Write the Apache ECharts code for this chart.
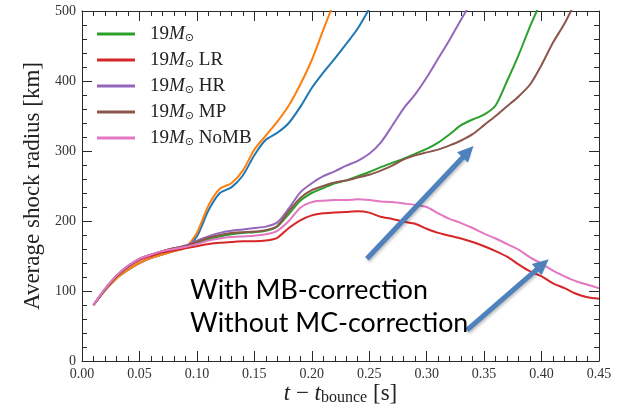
<!DOCTYPE html>
<html>
<head>
<meta charset="utf-8">
<script src="https://cdn.jsdelivr.net/npm/echarts@6/dist/echarts.min.js"></script>
<style>
html, body { margin: 0; padding: 0; background: #fff; }
#chart { width: 621px; height: 412px; }
</style>
</head>
<body>
<div id="chart"></div>
<script>
// Time after bounce [s]
const times = [0.01, 0.02, 0.03, 0.04, 0.05, 0.06, 0.07, 0.08, 0.09, 0.10,
  0.11, 0.12, 0.13, 0.14, 0.15, 0.16, 0.17, 0.18, 0.19, 0.20,
  0.21, 0.22, 0.23, 0.24, 0.25, 0.26, 0.27, 0.28, 0.29, 0.30,
  0.31, 0.32, 0.33, 0.34, 0.35, 0.36, 0.37, 0.38, 0.39, 0.40,
  0.41, 0.42, 0.43, 0.44, 0.45];

// Average shock radius [km] for each run
const radiusBlue = [80, 101, 118, 130, 140, 147, 152, 157, 162, 178,
  215, 240, 248, 265, 294, 316, 326, 340, 363, 390,
  412, 432, 453, 475, 503];
const radiusOrange = [80, 101, 118, 130, 140, 147, 152, 157, 162, 183,
  222, 246, 254, 272, 302, 322, 342, 365, 395, 430,
  473, 515];
const radiusRef = [80, 102, 121, 135, 145, 151, 156, 160, 163, 168,
  174, 178, 181, 183, 184, 186, 192, 210, 229, 240,
  247, 254, 258, 264, 270, 277, 283, 289, 296, 303,
  312, 324, 337, 345, 352, 365, 400, 437, 478, 515];
const radiusLR = [80, 102, 121, 134, 144, 150, 155, 158, 161, 164,
  167, 169, 170, 171, 171, 172, 176, 190, 201, 208,
  211, 212, 213, 214, 212, 206, 203, 199, 196, 189,
  183, 179, 175, 170, 164, 157, 149, 138, 128, 121,
  111, 104, 96, 91, 89];
const radiusHR = [80, 103, 122, 136, 146, 152, 157, 161, 165, 172,
  178, 183, 186, 188, 190, 192, 198, 218, 241, 254,
  264, 271, 279, 286, 296, 312, 336, 361, 381, 405,
  432, 459, 488, 515];
const radiusMP = [80, 102, 121, 135, 146, 152, 157, 161, 164, 170,
  176, 180, 183, 184, 185, 187, 193, 214, 233, 244,
  250, 255, 258, 262, 266, 272, 279, 288, 294, 298,
  302, 308, 315, 324, 337, 350, 364, 378, 395, 423,
  455, 482, 515];
const radiusNoMB = [80, 103, 122, 136, 146, 152, 157, 160, 163, 167,
  172, 175, 177, 178, 179, 181, 186, 200, 219, 227,
  229, 230, 230, 231, 230, 228, 227, 225, 223, 220,
  211, 203, 197, 190, 182, 175, 167, 159, 148, 139,
  129, 121, 114, 109, 104];

// Legend entries: "19 M_sun" followed by the run suffix
const runNames = ['19M', '19M LR', '19M HR', '19M MP', '19M NoMB'];
const runSuffix = ['', ' LR', ' HR', ' MP', ' NoMB'];

// Axis ticks (major) and minor subdivisions per major step
const xTicks = [0.00, 0.05, 0.10, 0.15, 0.20, 0.25, 0.30, 0.35, 0.40, 0.45];
const yTicks = [0, 100, 200, 300, 400, 500];
const minorPerMajor = 5;

// Arrow annotations [start, end] in data coordinates
const arrowMB = [[0.248, 146], [0.336, 299]];
const arrowMC = [[0.335, 44], [0.401, 138]];

const pairs = vals => vals.map((v, i) => [times[i], v]);

const serifFont = '"Liberation Serif", "DejaVu Serif", serif';
const axisColor = '#2a2a2a';
const xMin = xTicks[0], xMax = xTicks[xTicks.length - 1];
const yMin = yTicks[0], yMax = yTicks[yTicks.length - 1];
const majorLen = 10, minorLen = 5;

function frameAxis(extra) {
  return Object.assign({
    axisLine: { show: true, onZero: false, lineStyle: { color: axisColor, width: 1 } },
    axisTick: { show: false },
    minorTick: { show: false },
    splitLine: { show: false },
    minorSplitLine: { show: false }
  }, extra);
}

const xBase = { type: 'value', min: xMin, max: xMax, interval: 0.05 };
const yBase = { type: 'value', min: yMin, max: yMax, interval: 100 };

const colors = {
  blue: '#1f77b4', orange: '#ff7f0e', green: '#2ca02c', red: '#d62728',
  purple: '#9467bd', brown: '#8c564b', pink: '#e377c2'
};

function lineSeries(name, vals, color, extra) {
  return Object.assign({
    name: name,
    type: 'line',
    data: pairs(vals),
    showSymbol: false,
    symbol: 'none',
    smooth: 0.25,
    clip: true,
    lineStyle: { color: color, width: 2 },
    itemStyle: { color: color },
    emphasis: { disabled: true }
  }, extra || {});
}

const chart = echarts.init(document.getElementById('chart'), null, { renderer: 'canvas' });

chart.setOption({
  animation: false,
  backgroundColor: '#fff',
  grid: { left: 82, top: 11, right: 22, bottom: 51, containLabel: false, outerBoundsMode: 'none' },
  xAxis: [
    frameAxis(Object.assign({}, xBase, {
      position: 'bottom',
      name: '{i|t} − {i|t}{sub|bounce} {n|[s]}',
      nameLocation: 'middle',
      nameGap: 20,
      nameMoveOverlap: false,
      nameTextStyle: {
        fontFamily: serifFont, fontSize: 23, color: '#222',
        rich: {
          i: { fontFamily: serifFont, fontSize: 23, fontStyle: 'italic', color: '#222' },
          n: { fontFamily: serifFont, fontSize: 23, color: '#222' },
          sub: { fontFamily: serifFont, fontSize: 16, color: '#222', padding: [9, 0, 0, 0] }
        }
      },
      axisLabel: {
        margin: 6, fontFamily: serifFont, fontSize: 14, color: '#333',
        formatter: v => v.toFixed(2)
      }
    })),
    frameAxis(Object.assign({}, xBase, { position: 'top', axisLabel: { show: false } }))
  ],
  yAxis: [
    frameAxis(Object.assign({}, yBase, {
      position: 'left',
      name: 'Average shock radius [km]',
      nameLocation: 'middle',
      nameGap: 38,
      nameRotate: 90,
      nameTextStyle: { fontFamily: serifFont, fontSize: 23, color: '#222' },
      axisLabel: { margin: 6, fontFamily: serifFont, fontSize: 14, color: '#333' }
    })),
    frameAxis(Object.assign({}, yBase, { position: 'right', axisLabel: { show: false } }))
  ],
  legend: {
    data: runNames,
    orient: 'vertical',
    left: 92,
    top: 19,
    itemWidth: 38,
    itemHeight: 3,
    itemGap: 6,
    icon: 'rect',
    selectedMode: false,
    formatter: name => '{n|19}{m|M}{s|⊙}{n|' + runSuffix[runNames.indexOf(name)] + '}',
    textStyle: {
      fontFamily: serifFont, fontSize: 19, color: '#222', padding: [0, 0, 0, 10],
      rich: {
        n: { fontFamily: serifFont, fontSize: 19, color: '#222', lineHeight: 20 },
        m: { fontFamily: serifFont, fontSize: 19, fontStyle: 'italic', color: '#222', lineHeight: 20 },
        s: { fontFamily: '"DejaVu Sans", sans-serif', fontSize: 11, color: '#222', lineHeight: 20, padding: [9, 0, 0, 0] }
      }
    }
  },
  series: [
    lineSeries('blue', radiusBlue, colors.blue),
    lineSeries('orange', radiusOrange, colors.orange),
    lineSeries(runNames[0], radiusRef, colors.green),
    lineSeries(runNames[1], radiusLR, colors.red),
    lineSeries(runNames[2], radiusHR, colors.purple),
    lineSeries(runNames[3], radiusMP, colors.brown),
    lineSeries(runNames[4], radiusNoMB, colors.pink, {
      markLine: {
        silent: true,
        symbol: ['none', 'triangle'],
        symbolSize: [15, 16],
        label: { show: false },
        lineStyle: {
          color: '#4f81bd', width: 5, type: 'solid',
          shadowColor: 'rgba(0,0,0,0.25)', shadowBlur: 3, shadowOffsetX: 1, shadowOffsetY: 2
        },
        data: [
          [{ coord: arrowMB[0] }, { coord: arrowMB[1] }],
          [{ coord: arrowMC[0] }, { coord: arrowMC[1] }]
        ]
      }
    })
  ],
  graphic: [
    {
      type: 'text',
      left: 190,
      top: 274,
      z: 100,
      style: {
        text: 'With MB-correction\nWithout MC-correction',
        font: '26.8px Lato, "Open Sans", sans-serif',
        lineHeight: 33,
        fill: '#000'
      }
    }
  ]
});

// Inward frame ticks on all four sides, drawn as short segments in data space.
// Their length is given in pixels and converted through the axis scales.
const toPx = (x, y) => chart.convertToPixel({ gridIndex: 0 }, [x, y]);
const cornerLo = toPx(xMin, yMin);
const cornerHi = toPx(xMax, yMax);
const xPerPx = (xMax - xMin) / (cornerHi[0] - cornerLo[0]);
const yPerPx = (yMax - yMin) / (cornerLo[1] - cornerHi[1]);

const tickSegments = [];
function seg(a, b) {
  tickSegments.push([{ coord: a }, { coord: b }]);
}
const xStep = (xTicks[1] - xTicks[0]) / minorPerMajor;
const yStep = (yTicks[1] - yTicks[0]) / minorPerMajor;
const xCount = Math.round((xMax - xMin) / xStep);
const yCount = Math.round((yMax - yMin) / yStep);
for (let i = 1; i < xCount; i++) {
  const v = xMin + i * xStep;
  const dy = (i % minorPerMajor === 0 ? majorLen : minorLen) * yPerPx;
  seg([v, yMin], [v, yMin + dy]);
  seg([v, yMax], [v, yMax - dy]);
}
for (let i = 1; i < yCount; i++) {
  const v = yMin + i * yStep;
  const dx = (i % minorPerMajor === 0 ? majorLen : minorLen) * xPerPx;
  seg([xMin, v], [xMin + dx, v]);
  seg([xMax, v], [xMax - dx, v]);
}

chart.setOption({
  series: [{}, {}, {}, {}, {}, {}, {}, {
    name: 'frameTicks',
    type: 'line',
    data: [[xMin, yMin]],
    showSymbol: false,
    symbol: 'none',
    silent: true,
    clip: false,
    lineStyle: { width: 0, opacity: 0 },
    emphasis: { disabled: true },
    markLine: {
      silent: true,
      animation: false,
      symbol: ['none', 'none'],
      label: { show: false },
      emphasis: { disabled: true },
      lineStyle: { color: axisColor, width: 1, type: 'solid', opacity: 1 },
      data: tickSegments
    }
  }]
});
</script>
</body>
</html>
